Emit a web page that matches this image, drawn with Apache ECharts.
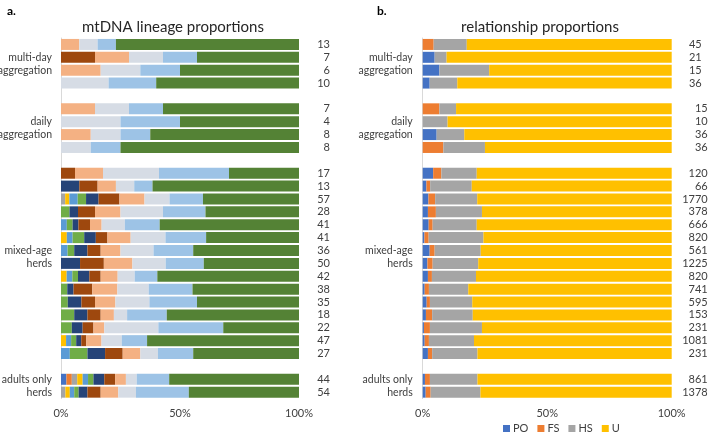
<!DOCTYPE html>
<html><head><meta charset="utf-8">
<script src="https://cdn.jsdelivr.net/npm/echarts@6/dist/echarts.min.js"></script>
<style>html,body{margin:0;padding:0;background:#fff}#c{width:709px;height:433px}</style>
</head><body><div id="c"></div>
<script>
// ---------- DATA ----------
const groupNames = [['multi-day','aggregation'], ['daily','aggregation'], ['mixed-age','herds'], ['adults only','herds']];
const groupSizes = [4, 4, 15, 2];

// mtDNA lineage counts per row (25 rows, group order)
const lineageNames = ['L1','L2','L3','L4','L5','L6','L7','L8','L9','L10','L11','L12'];
const lin1  = [0,0,0,0, 0,0,0,0, 0,0,0,0,0,0,0,0,0,0,0,0,0,0,0, 1,0];
const lin2  = [0,0,0,0, 0,0,0,0, 0,0,0,0,0,0,0,0,0,0,0,0,0,0,0, 1,0];
const lin3  = [0,0,0,0, 0,0,0,0, 0,0,1,0,0,0,0,0,0,0,0,0,0,0,0, 1,1];
const lin4  = [0,0,0,0, 0,0,0,0, 0,0,1,0,0,1,0,0,1,0,0,0,0,1,0, 1,1];
const lin5  = [0,0,0,0, 0,0,0,0, 0,0,2,0,1,1,1,0,1,0,0,0,0,1,1, 1,1];
const lin6  = [0,0,0,0, 0,0,0,0, 0,0,2,1,1,2,1,0,1,1,1,1,1,1,2, 1,1];
const lin7  = [0,0,0,0, 0,0,0,0, 0,1,3,1,1,2,2,4,2,1,2,1,1,1,2, 2,2];
const lin8  = [0,1,0,0, 0,0,0,0, 1,1,5,2,2,2,2,5,2,3,2,1,1,1,2, 2,3];
const lin9  = [1,1,1,0, 1,0,1,0, 2,1,6,3,2,4,3,6,3,4,3,1,1,3,2, 2,4];
const lin10 = [1,1,1,2, 1,1,1,1, 4,1,6,5,4,6,5,7,3,5,5,1,5,4,2, 2,4];
const lin11 = [1,1,1,2, 1,1,1,1, 5,1,8,5,6,7,6,8,4,7,7,3,6,5,4, 6,12];
const lin12 = [10,3,3,6, 4,2,5,6, 5,8,23,11,24,16,16,20,25,17,15,10,7,30,12, 24,25];
const lineageCounts = [lin1,lin2,lin3,lin4,lin5,lin6,lin7,lin8,lin9,lin10,lin11,lin12];
const lineageN = ['13','7','6','10', '7','4','8','8', '17','13','57','28','41','41','36','50','42','38','35','18','22','47','27', '44','54'];

// relationship proportions (%) per row
const relNames = ['PO','FS','HS','U'];
const relPO = [0,4.8,6.7,2.8, 0,0,5.6,0, 4.2,1.5,2.3,2.1,2.4,0.7,2.8,1.9,2.1,0.8,1.6,1.3,0.5,0.8,2.1, 0.9,1.2];
const relFS = [4.4,0,0,0, 6.7,0,0,8.3, 3.3,1.5,2.7,3.2,1.6,1.7,2.0,2.1,1.6,1.7,1.3,2.5,2.4,1.7,1.7, 2.0,2.0];
const relHS = [13.3,4.8,20.0,11.1, 6.7,10.0,11.1,16.7, 14.2,16.7,16.9,18.5,17.7,22.0,18.5,18.3,17.7,15.8,17.0,16.3,20.9,18.1,18.2, 19.1,20.0];
const relU  = [82.3,90.4,73.3,86.1, 86.6,90.0,83.3,75.0, 78.3,80.3,78.1,76.2,78.3,75.6,76.7,77.7,78.6,81.7,80.1,79.9,76.2,79.4,78.0, 78.0,76.8];
const relN = ['45','21','15','36', '15','10','36','36', '120','66','1770','378','666','820','561','1225','820','741','595','153','231','1081','231', '861','1378'];

const xTicks = ['0%','50%','100%'];

// ---------- LAYOUT HELPERS ----------
const linColors = ['#4472C4','#ED7D31','#A5A5A5','#FFC000','#5B9BD5','#70AD47','#264478','#9E480E','#F4B183','#D6DCE5','#9DC3E6','#548235'];
const relColors = ['#4472C4','#ED7D31','#A5A5A5','#FFC000'];

// map data rows into axis rows with blank separator rows
const rowMap = []; const groupLabelRows = {};
let r = 0;
groupSizes.forEach((n, g) => {
  const off = Math.floor((n - 2) / 2);
  groupLabelRows[r + off] = groupNames[g][0];
  groupLabelRows[r + off + 1] = groupNames[g][1];
  for (let i = 0; i < n; i++) rowMap.push(r + i);
  r += n;
  if (g < groupSizes.length - 1) r += 1;
});
const nRows = r;
function expand(arr) {
  const out = new Array(nRows).fill(null);
  arr.forEach((v, i) => { out[rowMap[i]] = v; });
  return out;
}
const cats = Array.from({length: nRows}, (_, i) => String(i));
const groupLabels = cats.map((_, i) => groupLabelRows[i] || '');
const leftCountLabels = expand(lineageN);
const rightCountLabels = expand(relN);
const rowTotals = lineageN.map((_, i) => lineageCounts.reduce((s, a) => s + a[i], 0));

const FONT = 'Lato, "Open Sans", sans-serif';
const TXT = '#404040';

function catAxis(gridIndex, pos, labels, margin, align, fs, rich) {
  return {
    type: 'category', gridIndex, data: cats, inverse: true, position: pos,
    axisTick: {show: false},
    axisLine: {show: pos === 'left', lineStyle: {color: '#d9d9d9', width: 1}},
    axisLabel: {
      interval: 0, margin, align, fontFamily: FONT, fontSize: fs, color: TXT,
      formatter: (v) => { const t = labels[+v] || ''; return rich ? rich(+v, t) : t; },
      rich: {off: {padding: [0, 6, 0, 0], fontFamily: FONT, fontSize: fs, color: TXT}}
    }
  };
}
function valAxis(gridIndex) {
  return {
    type: 'value', gridIndex, min: 0, max: 1, interval: 0.5,
    axisLine: {show: false}, axisTick: {show: false}, splitLine: {show: false},
    axisLabel: {margin: 9, fontFamily: FONT, fontSize: 11, color: TXT,
      formatter: (v) => xTicks[Math.round(v / 0.5)]}
  };
}

const series = [];
lineageCounts.forEach((arr, k) => {
  series.push({
    name: lineageNames[k], type: 'bar', stack: 'lin', xAxisIndex: 0, yAxisIndex: 0,
    barWidth: 11, itemStyle: {color: linColors[k]},
    data: expand(arr.map((c, i) => c / rowTotals[i]))
  });
});
[relPO, relFS, relHS, relU].forEach((arr, k) => {
  series.push({
    name: relNames[k], type: 'bar', stack: 'rel', xAxisIndex: 1, yAxisIndex: 2,
    barWidth: 11, itemStyle: {color: relColors[k]},
    data: expand(arr.map(v => v / 100))
  });
});

const chart = echarts.init(document.getElementById('c'), null, {renderer: 'canvas'});
chart.setOption({
  animation: false,
  backgroundColor: '#fff',
  title: [
    {text: 'mtDNA lineage proportions', left: 168, top: 15, textAlign: 'center',
     textStyle: {fontFamily: FONT, fontSize: 15, fontWeight: 'normal', color: '#262626'}},
    {text: 'relationship proportions', left: 535, top: 15, textAlign: 'center',
     textStyle: {fontFamily: FONT, fontSize: 15, fontWeight: 'normal', color: '#262626'}},
    {text: 'a.', left: 2, top: 0, textStyle: {fontFamily: FONT, fontSize: 12, fontWeight: 'bold', color: '#000'}},
    {text: 'b.', left: 372, top: 0, textStyle: {fontFamily: FONT, fontSize: 12, fontWeight: 'bold', color: '#000'}}
  ],
  legend: {
    data: relNames, left: 498, top: 418, itemWidth: 7, itemHeight: 7, itemGap: 9, icon: 'rect',
    textStyle: {fontFamily: FONT, fontSize: 11, color: TXT, padding: [0, 0, 0, -2]}
  },
  grid: [
    {left: 61, width: 238, top: 38, height: 360.6, containLabel: false, outerBoundsMode: 'none'},
    {left: 422.7, width: 249, top: 38, height: 360.6, containLabel: false, outerBoundsMode: 'none'}
  ],
  xAxis: [valAxis(0), valAxis(1)],
  yAxis: [
    catAxis(0, 'left', groupLabels, 9, 'right', 10.5),
    catAxis(0, 'right', leftCountLabels, 31, 'right', 11),
    catAxis(1, 'left', groupLabels, 10, 'right', 10.5),
    catAxis(1, 'right', rightCountLabels, 36, 'right', 11, (i, t) => (i < 4 && t) ? '{off|' + t + '}' : t)
  ],
  series
});
</script></body></html>
